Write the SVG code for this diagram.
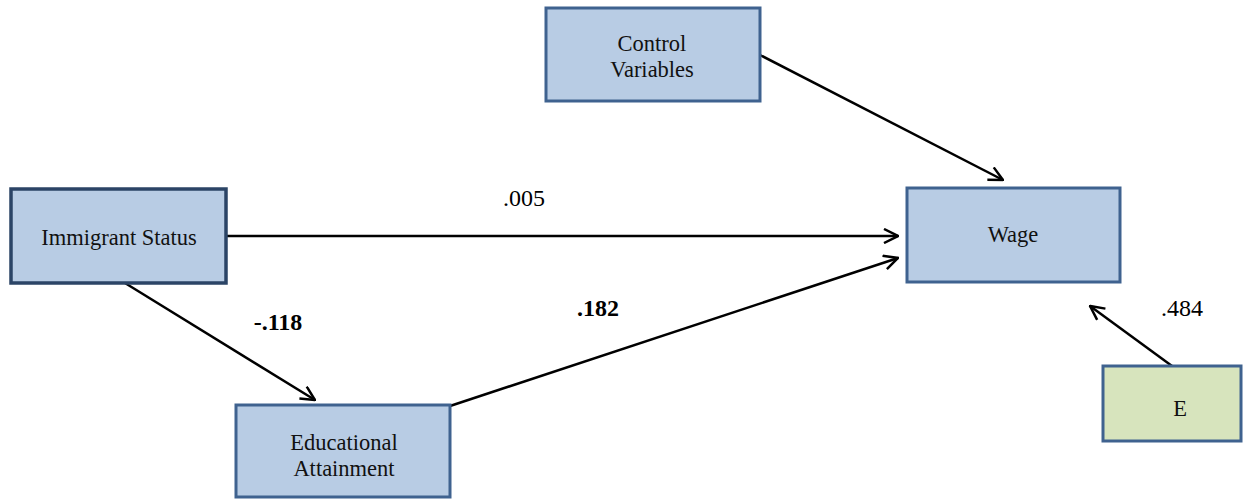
<svg xmlns="http://www.w3.org/2000/svg" width="1243" height="500" viewBox="0 0 1243 500">
<defs>
<marker id="arr" viewBox="0 0 16 16" refX="15" refY="8" markerWidth="16" markerHeight="16" markerUnits="userSpaceOnUse" orient="auto">
<path d="M1,1 L15,8 L1,15" fill="none" stroke="#000" stroke-width="2.5"/>
</marker>
<style>
.box{fill:#b8cce4;stroke:#3f628f;stroke-width:3}
.boxd{fill:#b8cce4;stroke:#2b4466;stroke-width:3.5}
.boxe{fill:#d7e4bd;stroke:#3f628f;stroke-width:3}
text{font-family:'Liberation Serif','Times New Roman','DejaVu Serif',serif}
.t{font-size:22.5px;fill:#111;text-anchor:middle}
.l{font-size:24px;fill:#000;text-anchor:middle}
.b{font-weight:bold}
.c{fill:none;stroke:#000;stroke-width:2.5}
</style>
</defs>
<g id="connectors">
<line class="c" x1="760" y1="55" x2="1003" y2="180" marker-end="url(#arr)"/>
<line class="c" x1="226" y1="236" x2="898" y2="236" marker-end="url(#arr)"/>
<line class="c" x1="125" y1="283" x2="315" y2="400" marker-end="url(#arr)"/>
<line class="c" x1="450" y1="406" x2="898" y2="258" marker-end="url(#arr)"/>
<line class="c" x1="1172" y1="366" x2="1090" y2="306" marker-end="url(#arr)"/>
</g>
<g id="labels">
<text class="l" x="524" y="206">.005</text>
<text class="l b" x="278" y="330">-.118</text>
<text class="l b" x="598" y="316">.182</text>
<text class="l" x="1182" y="316">.484</text>
</g>
<g id="control">
<rect class="box" x="546" y="8" width="214" height="93"/>
<text class="t" x="652" y="51">Control</text>
<text class="t" x="652" y="77">Variables</text>
</g>
<g id="immigrant">
<rect class="boxd" x="11" y="189" width="215" height="94"/>
<text class="t" x="119" y="245">Immigrant Status</text>
</g>
<g id="education">
<rect class="box" x="236" y="405" width="214" height="92"/>
<text class="t" x="344" y="450">Educational</text>
<text class="t" x="344" y="476">Attainment</text>
</g>
<g id="wage">
<rect class="box" x="907" y="188" width="213" height="94"/>
<text class="t" x="1013" y="242">Wage</text>
</g>
<g id="e">
<rect class="boxe" x="1103" y="366" width="138" height="75"/>
<text class="t" x="1180" y="416">E</text>
</g>
</svg>
